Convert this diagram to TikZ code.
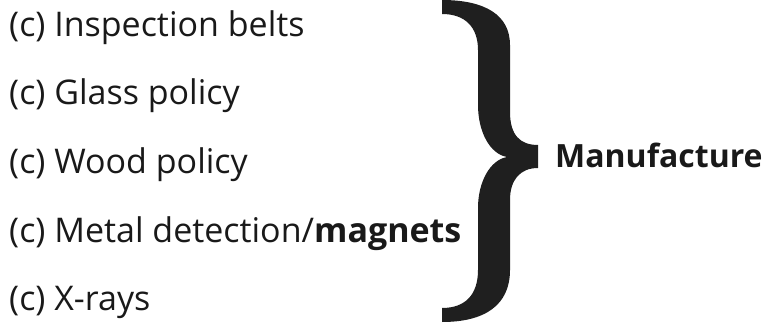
\documentclass[tikz,border=0pt]{standalone}
\usepackage{fontspec}
\setmainfont{Open Sans}
\begin{document}
\begin{tikzpicture}[x=1pt,y=-1pt,
  item/.style={anchor=base west,inner sep=0pt,font=\fontsize{34}{40}\selectfont,text=black!90},
  label/.style={anchor=base west,inner sep=0pt,font=\fontsize{32}{40}\selectfont\bfseries,text=black!90}]
\useasboundingbox (0,0) rectangle (768,323);
\node[item] (i1) at (9,37) {(c) Inspection belts};
\node[item] (i2) at (9,105) {(c) Glass policy};
\node[item] (i3) at (9,173.5) {(c) Wood policy};
\node[item] (i4) at (9,242) {(c) Metal detection/\textbf{magnets}};
\node[item] (i5) at (9,310) {(c) X-rays};
\node[label] (m) at (555,168) {Manufacture};
\fill[black!88] (442,0) .. controls (485,0) and (510,15) .. (510,45)
  -- (510,112) .. controls (510,135) and (520,145) .. (538,145)
  -- (538,168) .. controls (520,168) and (510,180) .. (510,200)
  -- (510,270) .. controls (510,305) and (485,322) .. (442,322)
  -- (442,308) .. controls (465,308) and (478,295) .. (478,270)
  -- (478,208) .. controls (478,182) and (490,160) .. (507,157)
  .. controls (490,154) and (478,132) .. (478,105)
  -- (478,50) .. controls (478,27) and (465,14) .. (442,14) -- cycle;
\end{tikzpicture}
\end{document}
